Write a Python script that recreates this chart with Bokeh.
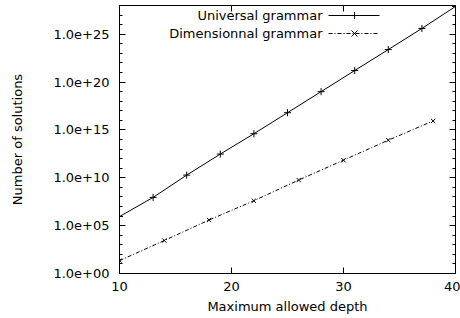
from bokeh.plotting import figure
from bokeh.models import (Range1d, FixedTicker, LinearAxis, LogAxis, CustomJSTickFormatter,
                          Label, Arrow)
from bokeh.embed import file_html
from bokeh.resources import INLINE

# ---- data ----
univ_depth = [10, 13, 16, 19, 22, 25, 28, 31, 34, 37, 40]
univ_solutions = [8.9e5, 8.9e7, 1.9e10, 3.0e12, 4.0e14, 6.3e16, 1.0e19, 1.6e21, 2.5e23, 4.0e25, 7.9e27]

dim_depth = [10, 14, 18, 22, 26, 30, 34, 38]
dim_solutions = [22, 2.8e3, 3.9e5, 4.0e7, 5.8e9, 6.9e11, 8.5e13, 8.7e15]

x_ticks = [10, 20, 30, 40]
y_ticks = [1e0, 1e5, 1e10, 1e15, 1e20, 1e25]
y_tick_labels = ["1.0e+00", "1.0e+05", "1.0e+10", "1.0e+15", "1.0e+20", "1.0e+25"]
y_minor = [10.0 ** k for k in range(0, 29)]

series_names = ["Universal grammar", "Dimensionnal grammar"]
x_title = "Maximum allowed depth"
y_title = "Number of solutions"

FONT = "DejaVu Sans"
FS = "13px"

p = figure(width=460, height=318, output_backend="svg", toolbar_location=None,
           x_axis_type="linear", y_axis_type="log",
           x_range=Range1d(10, 40), y_range=Range1d(1, 1e28),
           min_border_left=119, min_border_right=5, min_border_top=5, min_border_bottom=45)
p.background_fill_color = "white"
p.border_fill_color = "white"
p.outline_line_color = "black"
p.outline_line_width = 1
p.xgrid.visible = False
p.ygrid.visible = False

# bottom axis
xa = p.xaxis[0]
xa.ticker = FixedTicker(ticks=x_ticks)
xa.axis_line_color = None
xa.major_tick_in = 6
xa.major_tick_out = 0
xa.minor_tick_line_color = None
xa.major_label_standoff = 8
xa.major_label_text_font = FONT
xa.major_label_text_font_size = FS
xa.major_label_text_color = "black"
xa.axis_label = x_title
xa.axis_label_text_font = FONT
xa.axis_label_text_font_size = FS
xa.axis_label_text_font_style = "normal"
xa.axis_label_text_color = "black"
xa.axis_label_standoff = 5

# left axis
fmt = CustomJSTickFormatter(args=dict(vals=y_ticks, labs=y_tick_labels), code="""
let best = 0, bd = Infinity;
for (let i = 0; i < vals.length; i++) {
  const d = Math.abs(Math.log10(vals[i]) - Math.log10(tick));
  if (d < bd) { bd = d; best = i; }
}
return labs[best];
""")
ya = p.yaxis[0]
ya.ticker = FixedTicker(ticks=y_ticks, minor_ticks=y_minor)
ya.formatter = fmt
ya.axis_line_color = None
ya.major_tick_in = 6
ya.major_tick_out = 0
ya.minor_tick_in = 3
ya.minor_tick_out = 0
ya.major_label_standoff = 10
ya.major_label_text_font = FONT
ya.major_label_text_font_size = FS
ya.major_label_text_color = "black"
ya.axis_label = y_title
ya.axis_label_text_font = FONT
ya.axis_label_text_font_size = FS
ya.axis_label_text_font_style = "normal"
ya.axis_label_text_color = "black"
ya.axis_label_standoff = 25

# mirrored ticks on top and right (no labels)
top = LinearAxis(ticker=FixedTicker(ticks=x_ticks), formatter=CustomJSTickFormatter(code="return ''"),
                 axis_line_color=None, major_tick_in=6, major_tick_out=0,
                 minor_tick_line_color=None, major_label_standoff=0)
p.add_layout(top, "above")
right = LogAxis(ticker=FixedTicker(ticks=y_ticks, minor_ticks=y_minor),
                formatter=CustomJSTickFormatter(code="return ''"), axis_line_color=None,
                major_tick_in=6, major_tick_out=0, minor_tick_in=3, minor_tick_out=0,
                major_label_standoff=0)
p.add_layout(right, "right")

# series
p.line(univ_depth, univ_solutions, line_color="black", line_width=1)
p.scatter(univ_depth, univ_solutions, marker="cross", size=7, line_color="black", line_width=1)
p.line(dim_depth, dim_solutions, line_color="black", line_width=1, line_dash="4 2 1 2")
p.scatter(dim_depth, dim_solutions, marker="x", size=6, line_color="black", line_width=1)

# gnuplot-style key (text, then sample to its right), in screen units from frame
def seg(x0, y0, x1, y1, dash="solid"):
    p.add_layout(Arrow(end=None, x_start=x0, y_start=y0, x_end=x1, y_end=y1,
                       start_units="screen", end_units="screen",
                       line_color="black", line_width=1, line_dash=dash))

key_rows = [258, 240]
key_text_x = 203
key_line = (209, 260)
key_mark_x = 235
dashes = ["solid", "4 2 1 2"]
for i, name in enumerate(series_names):
    yk = key_rows[i]
    p.add_layout(Label(x=key_text_x, y=yk, x_units="screen", y_units="screen", text=name,
                       text_align="right", text_baseline="middle",
                       text_font=FONT, text_font_size=FS, text_color="black"))
    seg(key_line[0], yk, key_line[1], yk, dashes[i])
    if i == 0:
        seg(key_mark_x - 3.5, yk, key_mark_x + 3.5, yk)
        seg(key_mark_x, yk - 3.5, key_mark_x, yk + 3.5)
    else:
        seg(key_mark_x - 3, yk - 3, key_mark_x + 3, yk + 3)
        seg(key_mark_x - 3, yk + 3, key_mark_x + 3, yk - 3)

open("out.html", "w").write(file_html(p, INLINE))
